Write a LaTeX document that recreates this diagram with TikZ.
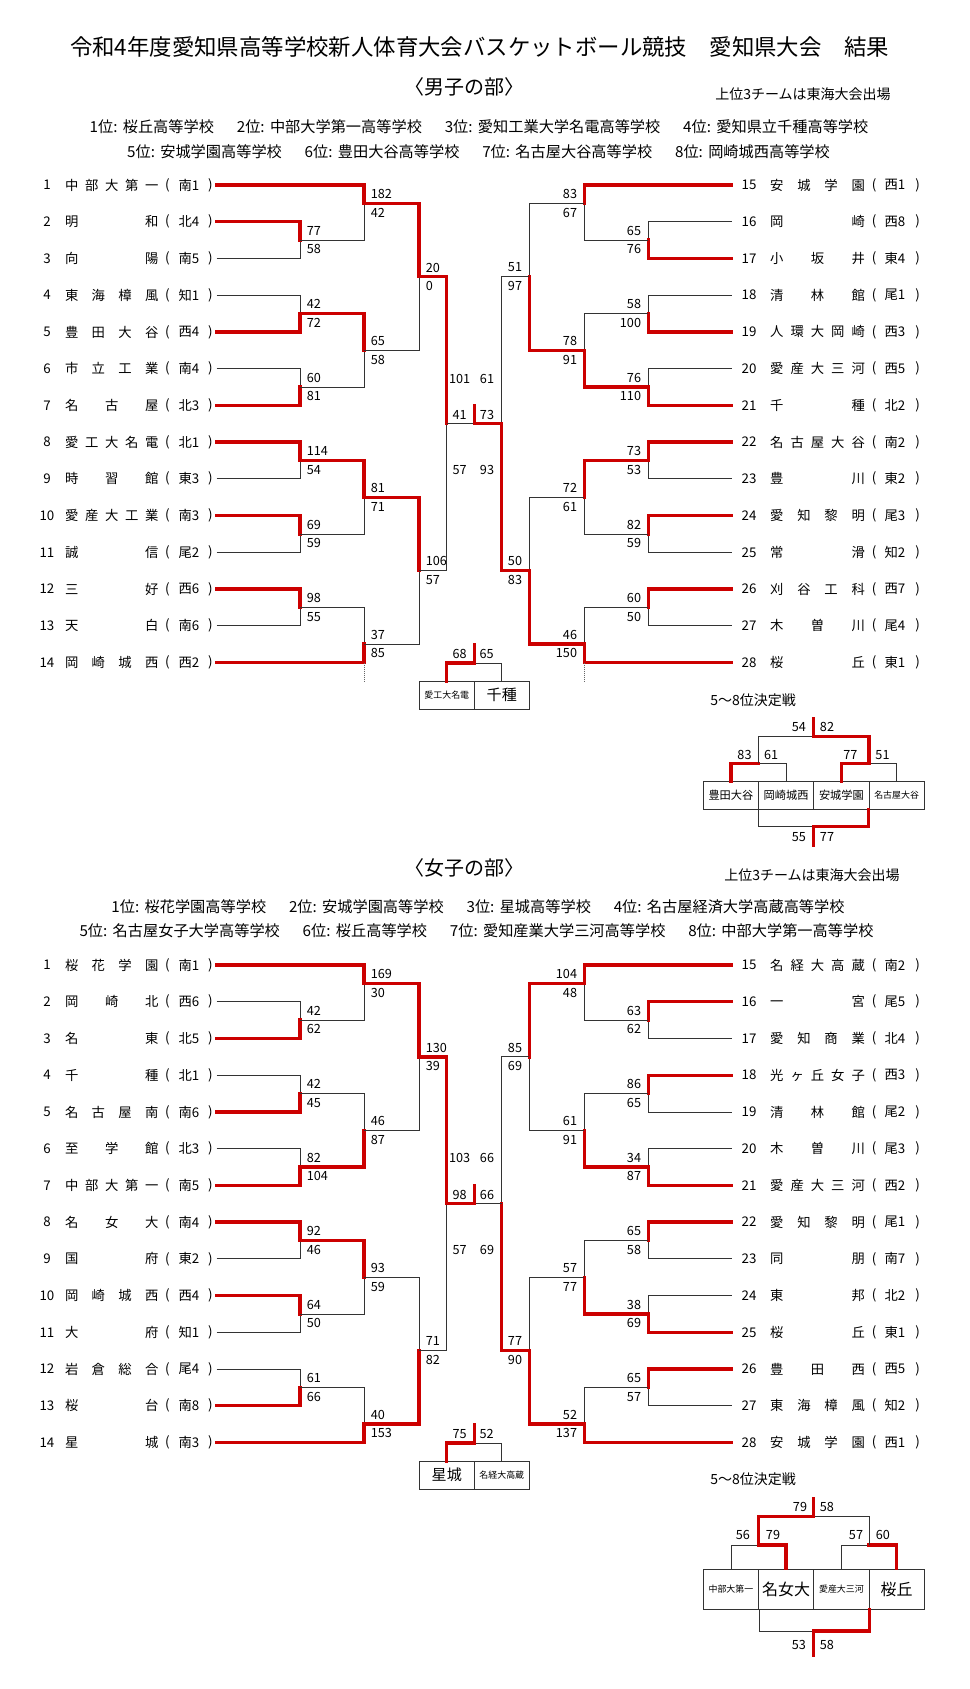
\documentclass[tikz,border=0pt]{standalone}
\usepackage{fontspec}
\setmainfont{Noto Sans CJK JP}
\definecolor{brkred}{RGB}{204,0,0}
\def\spreadA#1{#1\spreadB}
\def\spreadB#1{\ifx\relax#1\else\hfil#1\expandafter\spreadB\fi}
\def\pfx{m}
\tikzset{
  win/.style={draw=brkred,line width=2.5pt,line cap=rect},
  lose/.style={draw=black!80,line width=0.6pt},
  dotln/.style={draw=black!60,line width=0.5pt,densely dotted},
  tno/.style={inner sep=0pt,font=\fontsize{10}{12}\selectfont},
  sc/.style={inner sep=0pt,font=\fontsize{9.5}{10}\selectfont},
  rk/.style={inner sep=0pt,font=\fontsize{11.4}{13}\selectfont},
  cellbox/.style={draw=black!80,line width=0.6pt,inner sep=0pt,minimum width=41.4pt,minimum height=20.7pt},
  smallc/.style={font=\fontsize{6.7}{8}\selectfont},
  midc/.style={font=\fontsize{8.4}{10}\selectfont},
  bigc/.style={font=\fontsize{11.3}{13}\selectfont}
}
\newcommand\tmL[4]{%
  \node[tno] (\pfx n#2) at (47,{ry(#1)}) {#2};
  \node[tno] (\pfx t#2) at (111.7,{ry(#1)}) {\hbox to 70pt{\spreadA#3\relax}};
  \node[tno] (\pfx o#2) at (167.5,{ry(#1)}) {(};
  \node[tno] (\pfx g#2) at (189,{ry(#1)}) {#4};
  \node[tno] (\pfx c#2) at (210.5,{ry(#1)}) {)};
  \coordinate (\pfx#2) at (216.7,{ry(#1)});}
\newcommand\tmR[4]{%
  \node[tno] (\pfx n#2) at (749,{ry(#1)}) {#2};
  \node[tno] (\pfx t#2) at (817.5,{ry(#1)}) {\hbox to 71pt{\spreadA#3\relax}};
  \node[tno] (\pfx o#2) at (874.2,{ry(#1)}) {(};
  \node[tno] (\pfx g#2) at (895,{ry(#1)}) {#4};
  \node[tno] (\pfx c#2) at (917.5,{ry(#1)}) {)};
  \coordinate (\pfx#2) at (731.7,{ry(#1)});}
\newcommand\mt[9]{%
  \coordinate (#2) at (#3,{ry(#4)});
  \if#9t\draw[lose] (#6) -| (#2);\draw[win] (#5) -| (#2);%
  \else\draw[lose] (#5) -| (#2);\draw[win] (#6) -| (#2);\fi
  \if#1L\node[sc,anchor=west] (#2a) at ({#3+6.5},{ry(#4)-9.3}) {#7};%
  \node[sc,anchor=west] (#2b) at ({#3+6.5},{ry(#4)+9.3}) {#8};%
  \else\node[sc,anchor=east] (#2a) at ({#3-7},{ry(#4)-9.3}) {#7};%
  \node[sc,anchor=east] (#2b) at ({#3-7},{ry(#4)+9.3}) {#8};\fi}
\newcommand\rnk[2]{#1位:\hspace{0.35em}#2}
\newcommand\rgap{\hspace{1.5em}}
\begin{document}
\begin{tikzpicture}[x=0.75pt,y=-0.75pt,declare function={ry(\k)=148.27+36.73*\k;}]
\useasboundingbox[fill=white] (0,0) rectangle (970,1689);
\node[inner sep=0pt,font=\fontsize{16.8}{19}\selectfont] (title) at (479.5,47) {令和4年度愛知県高等学校新人体育大会バスケットボール競技　愛知県大会　結果};
\node[inner sep=0pt,font=\fontsize{15}{17}\selectfont] (mhead) at (464,87) {〈男子の部〉};
\node[inner sep=0pt,font=\fontsize{10.5}{12}\selectfont,anchor=east] (mnote) at (891,94) {上位3チームは東海大会出場};
\node[rk] (mrank1) at (479,127) {\rnk{1}{桜丘高等学校}\rgap\rnk{2}{中部大学第一高等学校}\rgap\rnk{3}{愛知工業大学名電高等学校}\rgap\rnk{4}{愛知県立千種高等学校}};
\node[rk] (mrank2) at (478.5,152) {\rnk{5}{安城学園高等学校}\rgap\rnk{6}{豊田大谷高等学校}\rgap\rnk{7}{名古屋大谷高等学校}\rgap\rnk{8}{岡崎城西高等学校}};

\tmL{1}{1}{中部大第一}{南1}
\tmL{2}{2}{明和}{北4}
\tmL{3}{3}{向陽}{南5}
\tmL{4}{4}{東海樟風}{知1}
\tmL{5}{5}{豊田大谷}{西4}
\tmL{6}{6}{市立工業}{南4}
\tmL{7}{7}{名古屋}{北3}
\tmL{8}{8}{愛工大名電}{北1}
\tmL{9}{9}{時習館}{東3}
\tmL{10}{10}{愛産大工業}{南3}
\tmL{11}{11}{誠信}{尾2}
\tmL{12}{12}{三好}{西6}
\tmL{13}{13}{天白}{南6}
\tmL{14}{14}{岡崎城西}{西2}
\tmR{1}{15}{安城学園}{西1}
\tmR{2}{16}{岡崎}{西8}
\tmR{3}{17}{小坂井}{東4}
\tmR{4}{18}{清林館}{尾1}
\tmR{5}{19}{人環大岡崎}{西3}
\tmR{6}{20}{愛産大三河}{西5}
\tmR{7}{21}{千種}{北2}
\tmR{8}{22}{名古屋大谷}{南2}
\tmR{9}{23}{豊川}{東2}
\tmR{10}{24}{愛知黎明}{尾3}
\tmR{11}{25}{常滑}{知2}
\tmR{12}{26}{刈谷工科}{西7}
\tmR{13}{27}{木曽川}{尾4}
\tmR{14}{28}{桜丘}{東1}

\mt{L}{mA1}{300}{2.5}{m2}{m3}{77}{58}{t}
\mt{L}{mA2}{300}{4.5}{m4}{m5}{42}{72}{b}
\mt{L}{mA3}{300}{6.5}{m6}{m7}{60}{81}{b}
\mt{L}{mA4}{300}{8.5}{m8}{m9}{114}{54}{t}
\mt{L}{mA5}{300}{10.5}{m10}{m11}{69}{59}{t}
\mt{L}{mA6}{300}{12.5}{m12}{m13}{98}{55}{t}
\mt{L}{mB1}{364}{1.5}{m1}{mA1}{182}{42}{t}
\mt{L}{mB2}{364}{5.5}{mA2}{mA3}{65}{58}{t}
\mt{L}{mB3}{364}{9.5}{mA4}{mA5}{81}{71}{t}
\mt{L}{mB4}{364}{13.5}{mA6}{m14}{37}{85}{b}
\mt{L}{mC1}{419}{3.5}{mB1}{mB2}{20}{0}{t}
\mt{L}{mC2}{419}{11.5}{mB3}{mB4}{106}{57}{t}
\mt{R}{mE1}{648.3}{2.5}{m16}{m17}{65}{76}{b}
\mt{R}{mE2}{648.3}{4.5}{m18}{m19}{58}{100}{b}
\mt{R}{mE3}{648.3}{6.5}{m20}{m21}{76}{110}{b}
\mt{R}{mE4}{648.3}{8.5}{m22}{m23}{73}{53}{t}
\mt{R}{mE5}{648.3}{10.5}{m24}{m25}{82}{59}{t}
\mt{R}{mE6}{648.3}{12.5}{m26}{m27}{60}{50}{t}
\mt{R}{mF1}{584.3}{1.5}{m15}{mE1}{83}{67}{t}
\mt{R}{mF2}{584.3}{5.5}{mE2}{mE3}{78}{91}{b}
\mt{R}{mF3}{584.3}{9.5}{mE4}{mE5}{72}{61}{t}
\mt{R}{mF4}{584.3}{13.5}{mE6}{m28}{46}{150}{b}
\mt{R}{mG1}{529.3}{3.5}{mF1}{mF2}{51}{97}{b}
\mt{R}{mG2}{529.3}{11.5}{mF3}{mF4}{50}{83}{b}

\coordinate (mD) at (446.7,{ry(7.5)});
\coordinate (mH) at (501.7,{ry(7.5)});
\coordinate (mX) at (474.2,{ry(7.5)});
\coordinate (mXt) at (474.2,{ry(7.5)-18});
\draw[lose] (mC2) -| (mD);
\draw[win] (mC1) -| (mD);
\draw[lose] (mG1) -| (mH);
\draw[win] (mG2) -| (mH);
\draw[lose] (mD) -- (mX);
\draw[win] (mH) -- (mX) -- (mXt);
\node[sc] (ms1) at (459.7,379) {101};
\node[sc] (ms2) at (487,379) {61};
\node[sc] (ms3) at (459.7,415.2) {41};
\node[sc] (ms4) at (487,415.2) {73};
\node[sc] (ms5) at (459.7,470.3) {57};
\node[sc] (ms6) at (487,470.3) {93};
\coordinate (mdt1) at (364,681.7);
\coordinate (mdt2) at (584.3,681.7);
\draw[dotln] (mB4 |- m14) -- (mdt1);
\draw[dotln] (mF4 |- m28) -- (mdt2);

\node[cellbox,smallc] (m3a) at (446.8,695.2) {愛工大名電};
\node[cellbox,bigc] (m3b) at (501.8,695.2) {千種};
\coordinate (m3X) at (474.2,663);
\coordinate (m3Xt) at (474.2,644.5);
\draw[lose] (m3b.north) |- (m3X);
\draw[win] (m3a.north) |- (m3X) -- (m3Xt);
\node[sc] (m3s1) at (459.7,653.8) {68};
\node[sc] (m3s2) at (486.7,653.8) {65};

\node[inner sep=0pt,font=\fontsize{10.5}{12}\selectfont,anchor=west] (m58) at (710,700) {5～8位決定戦};
\node[cellbox,midc] (m5a) at (730.9,795.5) {豊田大谷};
\node[cellbox,midc] (m5b) at (786.1,795.5) {岡崎城西};
\node[cellbox,midc] (m5c) at (841.4,795.5) {安城学園};
\node[cellbox,smallc] (m5d) at (896.6,795.5) {名古屋大谷};
\coordinate (m5p) at (758.6,763.3);
\coordinate (m5r) at (869,763.3);
\coordinate (m5q) at (813.8,736.7);
\coordinate (m5qt) at (813.8,718.3);
\coordinate (m7q) at (813.8,826.7);
\coordinate (m7qt) at (813.8,845);
\draw[lose] (m5b.north) |- (m5p);
\draw[win] (m5a.north) |- (m5p);
\draw[lose] (m5d.north) |- (m5r);
\draw[win] (m5c.north) |- (m5r);
\draw[lose] (m5p) |- (m5q);
\draw[win] (m5r) |- (m5q) -- (m5qt);
\draw[lose] (m5b.south west) |- (m7q);
\draw[win] (m5d.south west) |- (m7q) -- (m7qt);
\node[sc] (m5s1) at (744.5,755) {83};
\node[sc] (m5s2) at (771.2,755) {61};
\node[sc] (m5s3) at (850.3,755) {77};
\node[sc] (m5s4) at (882.5,755) {51};
\node[sc] (m5s5) at (798.8,727.3) {54};
\node[sc] (m5s6) at (827,727.3) {82};
\node[sc] (m7s1) at (798.8,836.7) {55};
\node[sc] (m7s2) at (827,836.7) {77};

\node[inner sep=0pt,font=\fontsize{15}{17}\selectfont] (whead) at (464,868) {〈女子の部〉};
\node[inner sep=0pt,font=\fontsize{10.5}{12}\selectfont,anchor=east] (wnote) at (900,875) {上位3チームは東海大会出場};
\node[rk] (wrank1) at (478,906.5) {\rnk{1}{桜花学園高等学校}\rgap\rnk{2}{安城学園高等学校}\rgap\rnk{3}{星城高等学校}\rgap\rnk{4}{名古屋経済大学高蔵高等学校}};
\node[rk] (wrank2) at (476.5,931) {\rnk{5}{名古屋女子大学高等学校}\rgap\rnk{6}{桜丘高等学校}\rgap\rnk{7}{愛知産業大学三河高等学校}\rgap\rnk{8}{中部大学第一高等学校}};

\begin{scope}[shift={(0,780)}]
\def\pfx{w}
\tmL{1}{1}{桜花学園}{南1}
\tmL{2}{2}{岡崎北}{西6}
\tmL{3}{3}{名東}{北5}
\tmL{4}{4}{千種}{北1}
\tmL{5}{5}{名古屋南}{南6}
\tmL{6}{6}{至学館}{北3}
\tmL{7}{7}{中部大第一}{南5}
\tmL{8}{8}{名女大}{南4}
\tmL{9}{9}{国府}{東2}
\tmL{10}{10}{岡崎城西}{西4}
\tmL{11}{11}{大府}{知1}
\tmL{12}{12}{岩倉総合}{尾4}
\tmL{13}{13}{桜台}{南8}
\tmL{14}{14}{星城}{南3}
\tmR{1}{15}{名経大高蔵}{南2}
\tmR{2}{16}{一宮}{尾5}
\tmR{3}{17}{愛知商業}{北4}
\tmR{4}{18}{光ヶ丘女子}{西3}
\tmR{5}{19}{清林館}{尾2}
\tmR{6}{20}{木曽川}{尾3}
\tmR{7}{21}{愛産大三河}{西2}
\tmR{8}{22}{愛知黎明}{尾1}
\tmR{9}{23}{同朋}{南7}
\tmR{10}{24}{東邦}{北2}
\tmR{11}{25}{桜丘}{東1}
\tmR{12}{26}{豊田西}{西5}
\tmR{13}{27}{東海樟風}{知2}
\tmR{14}{28}{安城学園}{西1}

\mt{L}{wA1}{300}{2.5}{w2}{w3}{42}{62}{b}
\mt{L}{wA2}{300}{4.5}{w4}{w5}{42}{45}{b}
\mt{L}{wA3}{300}{6.5}{w6}{w7}{82}{104}{b}
\mt{L}{wA4}{300}{8.5}{w8}{w9}{92}{46}{t}
\mt{L}{wA5}{300}{10.5}{w10}{w11}{64}{50}{t}
\mt{L}{wA6}{300}{12.5}{w12}{w13}{61}{66}{b}
\mt{L}{wB1}{364}{1.5}{w1}{wA1}{169}{30}{t}
\mt{L}{wB2}{364}{5.5}{wA2}{wA3}{46}{87}{b}
\mt{L}{wB3}{364}{9.5}{wA4}{wA5}{93}{59}{t}
\mt{L}{wB4}{364}{13.5}{wA6}{w14}{40}{153}{b}
\mt{L}{wC1}{419}{3.5}{wB1}{wB2}{130}{39}{t}
\mt{L}{wC2}{419}{11.5}{wB3}{wB4}{71}{82}{b}
\mt{R}{wE1}{648.3}{2.5}{w16}{w17}{63}{62}{t}
\mt{R}{wE2}{648.3}{4.5}{w18}{w19}{86}{65}{t}
\mt{R}{wE3}{648.3}{6.5}{w20}{w21}{34}{87}{b}
\mt{R}{wE4}{648.3}{8.5}{w22}{w23}{65}{58}{t}
\mt{R}{wE5}{648.3}{10.5}{w24}{w25}{38}{69}{b}
\mt{R}{wE6}{648.3}{12.5}{w26}{w27}{65}{57}{t}
\mt{R}{wF1}{584.3}{1.5}{w15}{wE1}{104}{48}{t}
\mt{R}{wF2}{584.3}{5.5}{wE2}{wE3}{61}{91}{b}
\mt{R}{wF3}{584.3}{9.5}{wE4}{wE5}{57}{77}{b}
\mt{R}{wF4}{584.3}{13.5}{wE6}{w28}{52}{137}{b}
\mt{R}{wG1}{529.3}{3.5}{wF1}{wF2}{85}{69}{t}
\mt{R}{wG2}{529.3}{11.5}{wF3}{wF4}{77}{90}{b}

\coordinate (wD) at (446.7,{ry(7.5)});
\coordinate (wH) at (501.7,{ry(7.5)});
\coordinate (wX) at (474.2,{ry(7.5)});
\coordinate (wXt) at (474.2,{ry(7.5)-18});
\draw[lose] (wC2) -| (wD);
\draw[win] (wC1) -| (wD);
\draw[lose] (wG1) -| (wH);
\draw[win] (wG2) -| (wH);
\draw[lose] (wH) -- (wX);
\draw[win] (wD) -- (wX) -- (wXt);
\node[sc] (ws1) at (459.7,378.3) {103};
\node[sc] (ws2) at (487,378.3) {66};
\node[sc] (ws3) at (459.7,415) {98};
\node[sc] (ws4) at (487,415) {66};
\node[sc] (ws5) at (459.7,470) {57};
\node[sc] (ws6) at (487,470) {69};

\node[cellbox,bigc] (w3a) at (446.8,695.2) {星城};
\node[cellbox,smallc] (w3b) at (501.8,695.2) {名経大高蔵};
\coordinate (w3X) at (474.2,663);
\coordinate (w3Xt) at (474.2,644.5);
\draw[lose] (w3b.north) |- (w3X);
\draw[win] (w3a.north) |- (w3X) -- (w3Xt);
\node[sc] (w3s1) at (459.7,653.8) {75};
\node[sc] (w3s2) at (486.7,653.8) {52};

\node[inner sep=0pt,font=\fontsize{10.5}{12}\selectfont,anchor=west] (w58) at (710,699) {5～8位決定戦};
\node[cellbox,smallc,minimum height=30pt] (w5a) at (730.9,809) {中部大第一};
\node[cellbox,font=\fontsize{12}{14}\selectfont,minimum height=30pt] (w5b) at (786.1,809) {名女大};
\node[cellbox,smallc,minimum height=30pt] (w5c) at (841.4,809) {愛産大三河};
\node[cellbox,font=\fontsize{12}{14}\selectfont,minimum height=30pt] (w5d) at (896.6,809) {桜丘};
\coordinate (w5p) at (758.6,765);
\coordinate (w5r) at (869,765);
\coordinate (w5q) at (813.8,736.7);
\coordinate (w5qt) at (813.8,718.3);
\coordinate (w7q) at (813.8,851);
\coordinate (w7qt) at (813.8,875);
\draw[lose] (w5a.north) |- (w5p);
\draw[win] (w5b.north) |- (w5p);
\draw[lose] (w5c.north) |- (w5r);
\draw[win] (w5d.north) |- (w5r);
\draw[lose] (w5r) |- (w5q);
\draw[win] (w5p) |- (w5q) -- (w5qt);
\draw[lose] (w5a.south east) |- (w7q);
\draw[win] (w5c.south east) |- (w7q) -- (w7qt);
\node[sc] (w5s1) at (742.8,755) {56};
\node[sc] (w5s2) at (773,755) {79};
\node[sc] (w5s3) at (856,755) {57};
\node[sc] (w5s4) at (882.8,755) {60};
\node[sc] (w5s5) at (800,727.3) {79};
\node[sc] (w5s6) at (826.8,727.3) {58};
\node[sc] (w7s1) at (798.8,865) {53};
\node[sc] (w7s2) at (826.8,865) {58};
\end{scope}
\end{tikzpicture}
\end{document}
